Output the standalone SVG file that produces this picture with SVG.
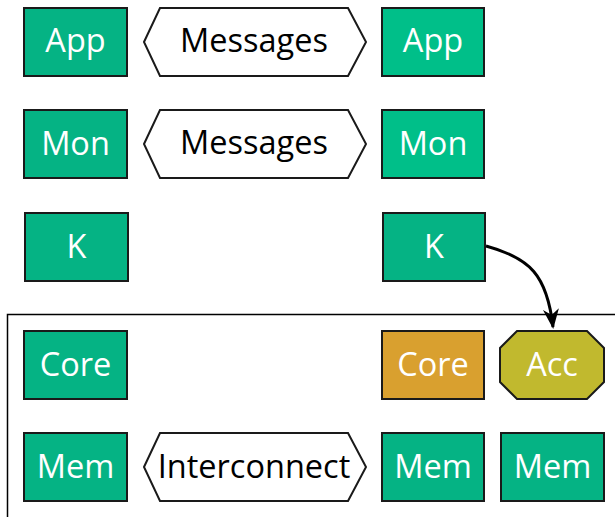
<svg xmlns="http://www.w3.org/2000/svg" width="615" height="517" viewBox="0 0 615 517">
<defs>
<style>
.n{fill:#05b384;stroke:#1a1a1a;stroke-width:2}
.n2{fill:#00bf89;stroke:#1a1a1a;stroke-width:2}
.h{fill:#fff;stroke:#1a1a1a;stroke-width:2}
.tw{font-family:"Open Sans",sans-serif;font-size:32.5px;fill:#fff;text-anchor:middle}
.tb{font-family:"Open Sans",sans-serif;font-size:32.5px;fill:#000;text-anchor:middle}
</style>
<marker id="ah" viewBox="0 0 20 20" refX="18" refY="10" markerWidth="20" markerHeight="20" markerUnits="userSpaceOnUse" orient="auto">
<path d="M0,2 L20,10 L0,18 L6,10 Z" fill="#000"/>
</marker>
</defs>
<rect x="-2" y="0" width="619" height="519" fill="#fff"/>
<g id="container"><path d="M7.5,520 V314.5 H620" fill="none" stroke="#000" stroke-width="1.5"/></g>
<g id="app1"><rect class="n" x="24" y="8" width="103" height="68"/><text class="tw" x="75.5" y="52">App</text></g>
<g id="msg1"><polygon class="h" points="144,42 160,8 348,8 366,42 348,76 160,76"/><text class="tb" x="254" y="52">Messages</text></g>
<g id="app2"><rect class="n2" x="382" y="8" width="102" height="68"/><text class="tw" x="433" y="52">App</text></g>
<g id="mon1"><rect class="n" x="24" y="110" width="103" height="68"/><text class="tw" x="75.5" y="155">Mon</text></g>
<g id="msg2"><polygon class="h" points="144,144 160,110 348,110 366,144 348,178 160,178"/><text class="tb" x="254" y="154">Messages</text></g>
<g id="mon2"><rect class="n2" x="382" y="110" width="102" height="68"/><text class="tw" x="433" y="155">Mon</text></g>
<g id="k1"><rect class="n" x="25" y="213" width="103" height="68"/><text class="tw" x="76.5" y="258">K</text></g>
<g id="k2"><rect class="n" x="383" y="213" width="102" height="68"/><text class="tw" x="434" y="258">K</text></g>
<g id="core1"><rect class="n" x="24" y="331" width="103" height="68"/><text class="tw" x="75.5" y="376">Core</text></g>
<g id="core2"><rect x="382" y="331" width="102" height="68" fill="#d9a02f" stroke="#1a1a1a" stroke-width="2"/><text class="tw" x="433" y="376">Core</text></g>
<g id="acc"><polygon points="517,331 587,331 604,348 604,382 587,399 517,399 500,382 500,348" fill="#c1b92e" stroke="#1a1a1a" stroke-width="2"/><text class="tw" x="552" y="376">Acc</text></g>
<g id="mem1"><rect class="n" x="24" y="433" width="103" height="68"/><text class="tw" x="75.5" y="478">Mem</text></g>
<g id="ic"><polygon class="h" points="144,467 160,433 348,433 366,467 348,501 160,501"/><text class="tb" x="254" y="478">Interconnect</text></g>
<g id="mem2"><rect class="n" x="382" y="433" width="102" height="68"/><text class="tw" x="433" y="478">Mem</text></g>
<g id="mem3"><rect class="n" x="501" y="433" width="103" height="68"/><text class="tw" x="552.5" y="478">Mem</text></g>
<g id="connectors"><path d="M486,246 C530,258 547,275 553,327" fill="none" stroke="#000" stroke-width="3" marker-end="url(#ah)"/></g>
</svg>
